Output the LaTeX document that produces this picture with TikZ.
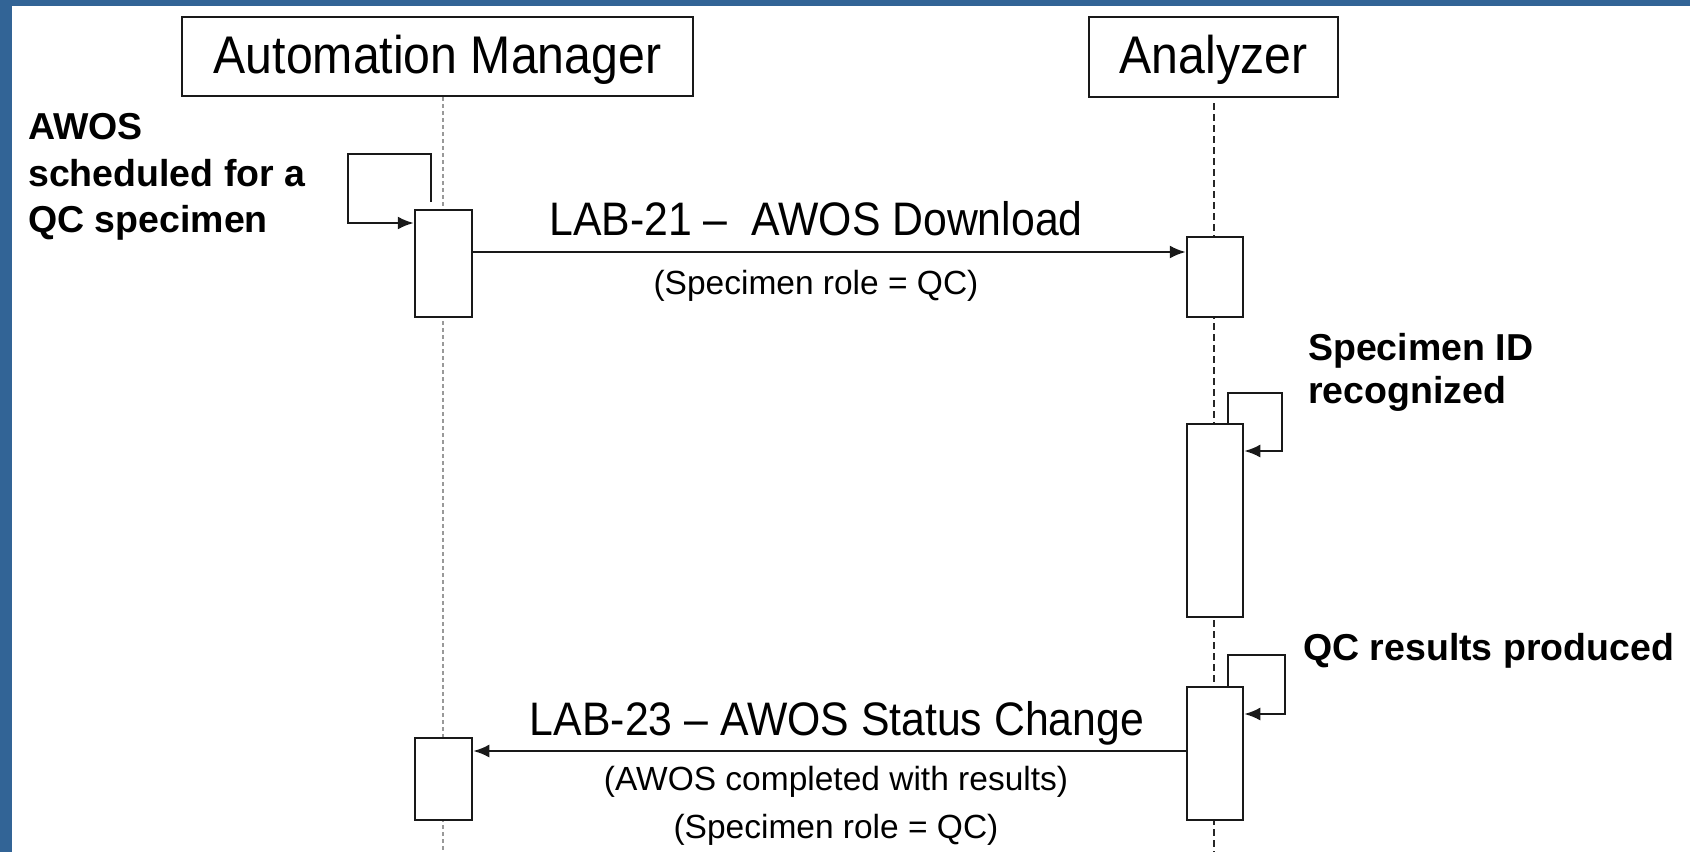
\documentclass[tikz,border=0pt]{standalone}
\usepackage{fontspec}
\setmainfont{Liberation Sans}
\usepackage{graphicx}
\usetikzlibrary{arrows.meta}
\definecolor{frameblue}{RGB}{50,100,150}
\newcommand{\nrw}[1]{\scalebox{0.91}[1]{#1}}
\tikzset{
  hdr/.style={draw=black!90, line width=2.5pt, fill=white, inner sep=0pt,
    text height=38pt, text depth=5pt, font=\fontsize{53}{60}\selectfont},
  act/.style={draw=black!90, line width=2.5pt, fill=white, inner sep=0pt, minimum width=57pt},
  msg/.style={line width=2.2pt, draw=black!90, -{Latex[length=16pt,width=13pt]}},
  amlife/.style={line width=2pt, draw=black!40, dash pattern=on 4pt off 3pt},
  anlife/.style={line width=2pt, draw=black!85, dash pattern=on 7pt off 4pt},
  bigtxt/.style={inner sep=0pt, anchor=base, font=\fontsize{47}{52}\selectfont},
  subtxt/.style={inner sep=0pt, anchor=base, font=\fontsize{33.5}{38}\selectfont},
  note/.style={inner sep=0pt, anchor=base west, font=\fontsize{37.5}{44}\selectfont\bfseries},
}
\begin{document}
\begin{tikzpicture}[x=1pt,y=-1pt]
\useasboundingbox (0,0) rectangle (1690,852);
\fill[frameblue] (0,0) rectangle (1690,852);
\fill[white] (12,6) rectangle (1690,852);

% headers
\node[hdr, minimum width=511pt, minimum height=79pt] (amh) at (437.5,56.5) {\nrw{Automation Manager}};
\node[hdr, minimum width=249pt, minimum height=80pt] (anh) at (1213.5,57) {\nrw{Analyzer}};

% lifelines
\coordinate (amb) at (443,852);
\coordinate (anb) at (1214,852);
\coordinate (ant) at (1214,103);
\draw[amlife] (amh.south -| amb) -- (amb);
\draw[anlife] (ant) -- (anb);

% activation boxes
\node[act, minimum height=107pt] (am1) at (443.5,263.5) {};
\node[act, minimum height=80pt, minimum width=56pt] (an1) at (1215,277) {};
\node[act, minimum height=193pt, minimum width=56pt] (an2) at (1215,520.5) {};
\node[act, minimum height=133pt, minimum width=56pt] (an3) at (1215,753.5) {};
\node[act, minimum height=82pt] (am2) at (443.5,779) {};

% self loop on Automation Manager
\coordinate (l1s) at (431,202);
\coordinate (l1c) at (348,154);
\coordinate (l1e) at (0,223);
\draw[msg] (l1s) |- (l1c) |- (am1.west |- l1e);

% LAB-21
\coordinate (m1) at (0,252);
\draw[msg] (am1.east |- m1) -- (an1.west |- m1);

% self loop Specimen ID recognized
\coordinate (l2s) at (1228,0);
\coordinate (l2c) at (1282,393);
\coordinate (l2e) at (0,451);
\draw[msg] (an2.north -| l2s) |- (l2c) |- (an2.east |- l2e);

% self loop QC results produced
\coordinate (l3c) at (1285,655);
\coordinate (l3e) at (0,714);
\draw[msg] (an3.north -| l2s) |- (l3c) |- (an3.east |- l3e);

% LAB-23
\coordinate (m2) at (0,751);
\draw[msg] (an3.west |- m2) -- (am2.east |- m2);

% message texts
\node[bigtxt] (t1) at (816,235) {\nrw{LAB-21 –\ \ AWOS Download}};
\node[subtxt] (t1b) at (816,294) {(Specimen role = QC)};
\node[bigtxt] (t2) at (837,735) {\nrw{LAB-23 – AWOS Status Change}};
\node[subtxt] (t2b) at (836,790) {(AWOS completed with results)};
\node[subtxt] (t2c) at (836,838) {(Specimen role = QC)};

% notes
\node[note] (n1a) at (28,139) {AWOS};
\node[note] (n1b) at (28,186) {scheduled for a};
\node[note] (n1c) at (28,232) {QC specimen};
\node[note] (n2a) at (1308,360) {Specimen ID};
\node[note] (n2b) at (1308,403) {recognized};
\node[note] (n3) at (1303,660) {QC results produced};
\end{tikzpicture}
\end{document}
